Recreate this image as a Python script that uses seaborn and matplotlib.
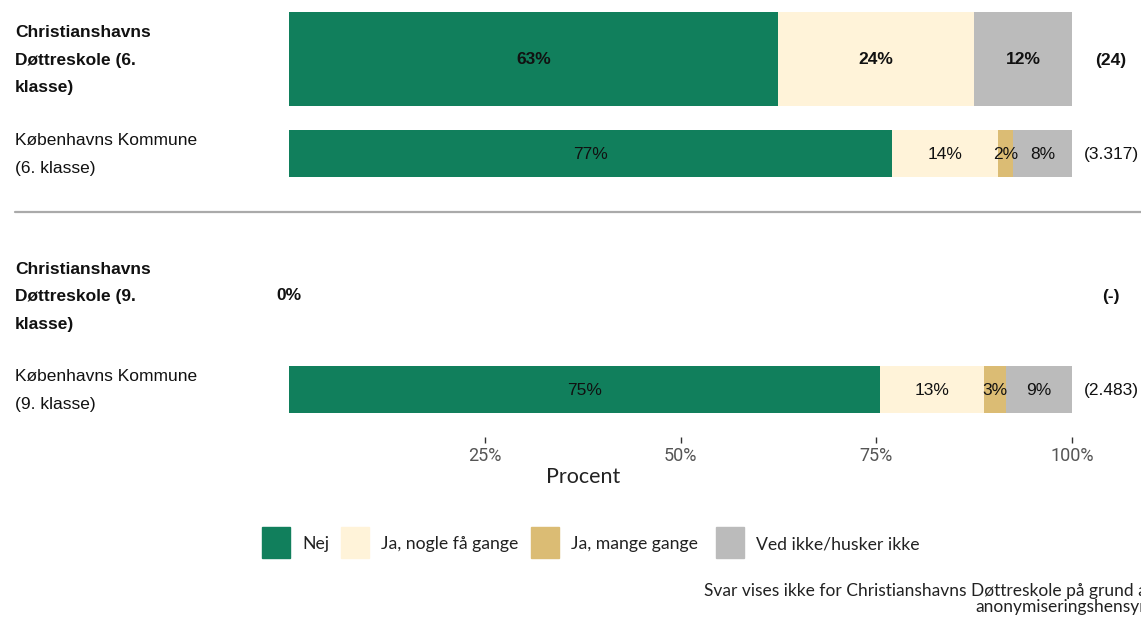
import numpy as np
import pandas as pd
import matplotlib
matplotlib.use("Agg")
import matplotlib.pyplot as plt
import seaborn as sns

# ---------------- data ----------------
row_labels = [
    "Christianshavns\nDøttreskole (6.\nklasse)",
    "Københavns Kommune\n(6. klasse)",
    "Christianshavns\nDøttreskole (9.\nklasse)",
    "Københavns Kommune\n(9. klasse)",
]
row_bold = [True, False, True, False]
categories = ["Nej", "Ja, nogle få gange", "Ja, mange gange", "Ved ikke/husker ikke"]
nej = [62.5, 77.0, 0.0, 75.5]
ja_faa = [25.0, 13.5, 0.0, 13.3]
ja_mange = [0.0, 2.0, 0.0, 2.8]
ved_ikke = [12.5, 7.5, 0.0, 8.4]
seg_labels = [
    ["63%", "24%", "", "12%"],
    ["77%", "14%", "2%", "8%"],
    ["", "", "", ""],
    ["75%", "13%", "3%", "9%"],
]
n_labels = ["(24)", "(3.317)", "(-)", "(2.483)"]
xticks = [25, 50, 75, 100]
xtick_labels = ["25%", "50%", "75%", "100%"]
footer = "Svar vises ikke for Christianshavns Døttreskole på grund af\nanonymiseringshensyn."

colors = ["#117F5C", "#FFF3D9", "#DBBC74", "#BBBBBB"]

# ---------------- layout ----------------
W, H = 1141, 619
row_pos = [59, 153.5, 296, 389.5]
row_height = [94, 47, 47, 47]
has_bar = [True, True, False, True]

sns.set_theme(style="white")
plt.rcParams["font.family"] = ["Liberation Sans", "DejaVu Sans"]

fig = plt.figure(figsize=(W / 100, H / 100), dpi=100)
ax_left, ax_right, ax_top, ax_bottom = 289, 1072, 0, 437
ax = fig.add_axes([ax_left / W, 1 - ax_bottom / H, (ax_right - ax_left) / W, (ax_bottom - ax_top) / H])

series = np.array([nej, ja_faa, ja_mange, ved_ikke])
cum = np.cumsum(series, axis=0)

for i in range(len(row_labels)):
    if not has_bar[i]:
        continue
    for k in range(len(categories) - 1, -1, -1):
        df = pd.DataFrame({"value": [cum[k, i]], "pos": [row_pos[i]]})
        sns.barplot(data=df, x="value", y="pos", orient="y", native_scale=True,
                    width=row_height[i], color=colors[k], saturation=1,
                    errorbar=None, linewidth=0, ax=ax)
    # segment labels
    for k in range(len(categories)):
        txt = seg_labels[i][k]
        if not txt:
            continue
        left = cum[k, i] - series[k, i]
        ax.text(left + series[k, i] / 2, row_pos[i] + 1, txt, ha="center", va="center",
                fontsize=12.5, fontweight="bold" if row_bold[i] else "normal", color="#111111")

ax.text(0, row_pos[2], "0%", ha="center", va="center", fontsize=12.5, fontweight="bold", color="#111111")

ax.set_xlim(0, 100)
ax.set_ylim(ax_bottom, ax_top)
ax.set_xlabel("")
ax.set_ylabel("")
ax.set_yticks([])
ax.set_xticks(xticks)
ax.set_xticklabels(xtick_labels, fontsize=13, color="#555555", family=["Roboto", "DejaVu Sans"])
ax.tick_params(axis="x", length=4, width=1, color="#333333", pad=3, bottom=True)
for s in ax.spines.values():
    s.set_visible(False)
ax.patch.set_alpha(0)


def fx(x):
    return x / W


def fy(y):
    return 1 - y / H


# row labels
for i, lab in enumerate(row_labels):
    fig.text(fx(15), fy(row_pos[i] + 1), lab, ha="left", va="center", fontsize=12.5,
             fontweight="bold" if row_bold[i] else "normal", color="#111111", linespacing=2.05)
    fig.text(fx(1111), fy(row_pos[i] + 1), n_labels[i], ha="center", va="center", fontsize=12.5,
             fontweight="bold" if row_bold[i] else "normal", color="#111111")

# separator
fig.add_artist(plt.Line2D([fx(15), fx(1141)], [fy(212), fy(212)], color="#AAAAAA", lw=1.6))

# axis title
fig.text(fx(583), fy(477), "Procent", ha="center", va="center", fontsize=15.5,
         family=["Lato", "DejaVu Sans"], color="#222222")

# legend
leg_x = [262, 341, 531, 716]
for k, cat in enumerate(categories):
    fig.patches.append(plt.Rectangle((fx(leg_x[k]), fy(558)), 28 / W, 31 / H,
                                     transform=fig.transFigure, color=colors[k], figure=fig))
    fig.text(fx(leg_x[k] + 40), fy(544), cat, ha="left", va="center", fontsize=12.7,
             family=["Lato", "DejaVu Sans"], color="#222222")

# footer
fig.text(fx(1153), fy(599), footer, ha="right", va="center", fontsize=12.5,
         family=["Lato", "DejaVu Sans"], color="#222222", multialignment="right", linespacing=0.95)

fig.savefig("out.png", dpi=100)
